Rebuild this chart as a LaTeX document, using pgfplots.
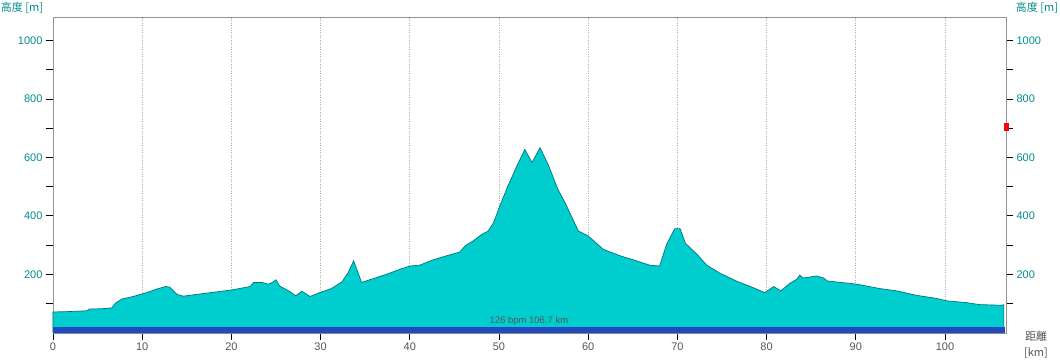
\documentclass[border=0pt]{standalone}
\usepackage{pgfplots}
\pgfplotsset{compat=1.18}
\usepackage{fontspec}
\setmainfont{Liberation Sans}
\newfontfamily\cjk{Noto Sans CJK JP}
\definecolor{fillc}{RGB}{0,206,206}
\definecolor{linec}{RGB}{0,115,125}
\definecolor{labc}{RGB}{0,140,140}
\definecolor{barc}{RGB}{36,72,192}
\definecolor{txtc}{RGB}{85,85,85}
\pgfplotstableread{
km m
0 71
1.5 72
3.8 75
4.1 81
5.5 82
6.6 85
7.0 101
7.7 115
9.0 124
9.9 132
10.5 137
11.6 149
12.6 158
13.1 156
13.9 131
14.6 125
16.1 131
18.4 140
20.0 146
22.1 158
22.5 172
23.4 172
24.1 166
24.6 172
25.0 181
25.4 160
26.6 140
27.2 126
27.9 142
28.8 124
29.9 137
31.2 151
32.4 174
33.1 206
33.7 246
34.6 172
35.9 185
37.4 200
38.9 217
40.0 228
41.1 231
42.6 249
44.1 263
45.6 276
46.2 297
47.1 314
48.1 337
48.8 348
49.4 377
50.1 434
51.0 502
52.0 570
52.9 627
53.7 582
54.6 633
55.5 576
56.6 491
57.4 445
58.9 348
60.0 331
61.7 285
63.6 263
65.4 246
66.9 231
68.0 228
68.8 303
69.7 356
70.3 356
70.9 306
72.2 268
73.3 231
74.8 203
76.6 177
78.5 154
79.8 137
80.8 158
81.6 143
82.6 169
83.4 183
83.7 197
84.1 187
85.6 194
86.4 187
86.8 177
90.1 166
92.7 151
94.6 143
96.8 128
99.1 117
100.2 109
102.4 103
103.9 96
106.4 94
106.6 96
}\profile
\begin{document}
\begin{tikzpicture}
\path[use as bounding box] (-53pt,-27.3pt) rectangle (1007pt,332.7pt);
\begin{axis}[
  at={(0,0)}, anchor=south west,
  width=953pt, height=315.7pt, scale only axis,
  xmin=0, xmax=106.84, ymin=0, ymax=1080,
  clip=false,
  axis line style={draw=gray!85},
  tick align=outside, major tick length=7pt,
  every tick/.style={black, line width=0.6pt},
  xtick={0,10,...,100}, xtick pos=bottom,
  xmajorgrids, grid style={dotted, gray!65, line width=0.7pt},
  ytick={100,200,...,1000}, ytick pos=left,
  yticklabels={{},200,{},400,{},600,{},800,{},1000},
  /pgf/number format/assume math mode=true,
  ticklabel style={font=\fontsize{11}{13}\selectfont},
  yticklabel style={text=labc},
  xticklabel style={text=txtc},
]
\addplot[draw=linec, line width=0.7pt, fill=fillc] table[x=km,y=m] {\profile} \closedcycle;
\addplot[draw=none, fill=barc] coordinates {(0,21) (106.7,21)} \closedcycle;
\node[font=\fontsize{9.5}{11}\selectfont, text=txtc] at (axis cs:53.35,40) {126 bpm 106.7 km};
\end{axis}
\begin{axis}[
  at={(0,0)}, anchor=south west,
  width=953pt, height=315.7pt, scale only axis,
  xmin=0, xmax=106.84, ymin=0, ymax=1080,
  clip=false,
  hide x axis, axis y line*=right,
  axis line style={draw=gray!85, -},
  tick align=outside, major tick length=7pt,
  every tick/.style={black, line width=0.6pt},
  ytick={100,200,...,1000},
  yticklabels={{},200,{},400,{},600,{},800,{},1000},
  /pgf/number format/assume math mode=true,
  ticklabel style={font=\fontsize{11}{13}\selectfont},
  yticklabel style={text=labc},
]
\addplot[only marks, mark=square*, mark size=3pt, mark options={fill=red, draw=red, xscale=0.75, yscale=1.15}] coordinates {(106.84,706)};
\end{axis}
\node[font=\cjk\fontsize{11}{13}\selectfont, text=labc] at (-31pt,324.7pt) {高度 [m]};
\node[font=\cjk\fontsize{11}{13}\selectfont, text=labc] at (984pt,324.7pt) {高度 [m]};
\node[font=\cjk\fontsize{11}{13}\selectfont, text=txtc] at (983pt,-3.5pt) {距離};
\node[font=\cjk\fontsize{11}{13}\selectfont, text=txtc] at (983pt,-20.5pt) {[km]};
\end{tikzpicture}
\end{document}
